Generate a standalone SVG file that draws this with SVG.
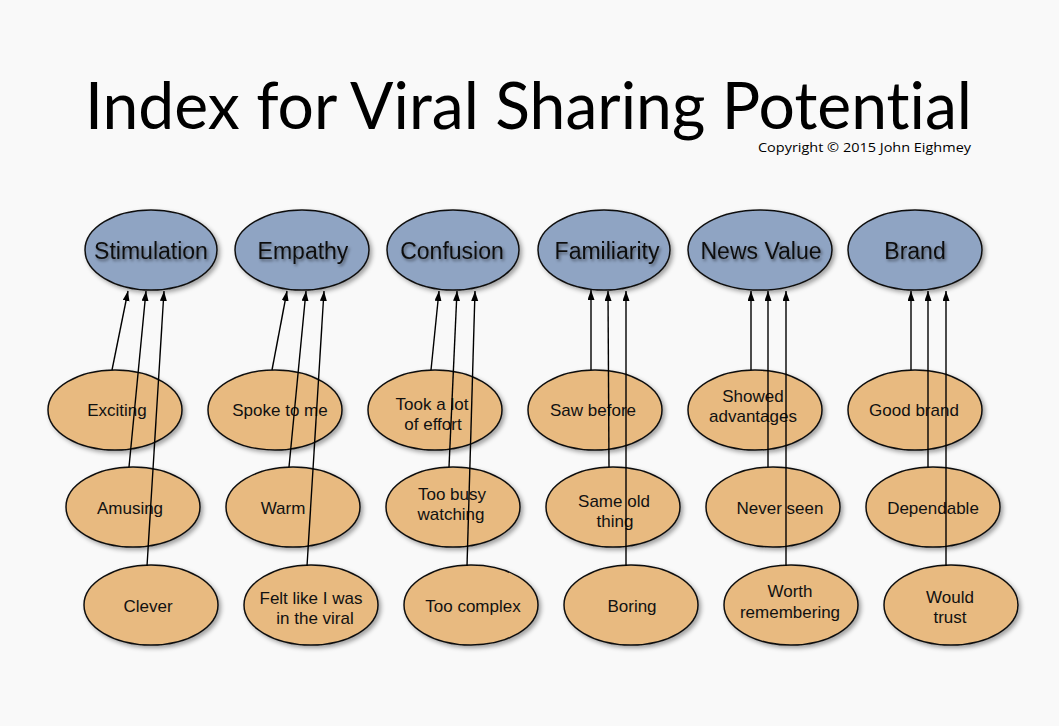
<svg xmlns="http://www.w3.org/2000/svg" width="1059" height="726" viewBox="0 0 1059 726">
<defs>
<style>
.top{fill:#8fa4c3;stroke:#111;stroke-width:1.5;filter:url(#sh)}
.sub{fill:#e8ba80;stroke:#111;stroke-width:1.5;filter:url(#sh)}
.tl{font-family:"Liberation Sans",Arial,sans-serif;font-size:23px;fill:#111;text-anchor:middle;filter:url(#tsh)}
.sl{font-family:"Liberation Sans",Arial,sans-serif;font-size:17px;fill:#111;text-anchor:middle}
.c line{stroke:#000;stroke-width:1.4;marker-end:url(#ah)}
</style>
<filter id="sh" x="-20%" y="-20%" width="150%" height="150%">
<feDropShadow dx="2.5" dy="2.5" stdDeviation="2" flood-color="#000" flood-opacity="0.35"/>
</filter>
<filter id="tsh" x="-20%" y="-30%" width="140%" height="170%">
<feDropShadow dx="1.5" dy="2" stdDeviation="1.5" flood-color="#000" flood-opacity="0.45"/>
</filter>
<marker id="ah" markerUnits="userSpaceOnUse" markerWidth="11" markerHeight="8" refX="10" refY="3.5" orient="auto">
<path d="M0,0 L10,3.5 L0,7 z" fill="#000"/>
</marker>
</defs>
<rect width="1059" height="726" fill="#f9f9f9"/>
<text x="85" y="129" font-family="Lato,'Open Sans',sans-serif" font-size="65" fill="#000" style="font-variant-ligatures:none" textLength="887" lengthAdjust="spacingAndGlyphs">Index for Viral Sharing Potential</text>
<text x="758" y="152" font-family="'Open Sans',Lato,sans-serif" font-size="13.5" fill="#000" textLength="213" lengthAdjust="spacingAndGlyphs">Copyright © 2015 John Eighmey</text>

<g id="stimulation"><ellipse class="top" cx="151" cy="250" rx="66" ry="40"/><text class="tl" x="151" y="259">Stimulation</text></g>
<g id="empathy"><ellipse class="top" cx="302" cy="250" rx="67" ry="40"/><text class="tl" x="303" y="259">Empathy</text></g>
<g id="confusion"><ellipse class="top" cx="453" cy="250" rx="66" ry="40"/><text class="tl" x="452" y="259">Confusion</text></g>
<g id="familiarity"><ellipse class="top" cx="604" cy="250" rx="66" ry="40"/><text class="tl" x="607" y="259">Familiarity</text></g>
<g id="newsvalue"><ellipse class="top" cx="760" cy="250" rx="72" ry="40"/><text class="tl" x="761" y="259">News Value</text></g>
<g id="brand"><ellipse class="top" cx="915" cy="250" rx="67" ry="40"/><text class="tl" x="915" y="259">Brand</text></g>

<g id="exciting"><ellipse class="sub" cx="115" cy="410" rx="67" ry="40"/><text class="sl" x="117" y="416">Exciting</text></g>
<g id="amusing"><ellipse class="sub" cx="133" cy="507" rx="67" ry="40"/><text class="sl" x="130" y="514">Amusing</text></g>
<g id="clever"><ellipse class="sub" cx="151" cy="605" rx="67" ry="40"/><text class="sl" x="148" y="612">Clever</text></g>

<g id="spoketome"><ellipse class="sub" cx="275" cy="410" rx="67" ry="40"/><text class="sl" x="280" y="416">Spoke to me</text></g>
<g id="warm"><ellipse class="sub" cx="293" cy="507" rx="67" ry="40"/><text class="sl" x="283" y="514">Warm</text></g>
<g id="feltlike"><ellipse class="sub" cx="311" cy="605" rx="67" ry="40"/><text class="sl" x="311" y="604">Felt like I was</text><text class="sl" x="315" y="624">in the viral</text></g>

<g id="tookalot"><ellipse class="sub" cx="435" cy="410" rx="67" ry="40"/><text class="sl" x="432" y="410">Took a lot</text><text class="sl" x="433" y="430">of effort</text></g>
<g id="toobusy"><ellipse class="sub" cx="453" cy="507" rx="67" ry="40"/><text class="sl" x="452" y="500">Too busy</text><text class="sl" x="451" y="520">watching</text></g>
<g id="toocomplex"><ellipse class="sub" cx="471" cy="605" rx="67" ry="40"/><text class="sl" x="473" y="612">Too complex</text></g>

<g id="sawbefore"><ellipse class="sub" cx="595" cy="410" rx="67" ry="40"/><text class="sl" x="593" y="416">Saw before</text></g>
<g id="sameold"><ellipse class="sub" cx="613" cy="507" rx="67" ry="40"/><text class="sl" x="614" y="507">Same old</text><text class="sl" x="615" y="527">thing</text></g>
<g id="boring"><ellipse class="sub" cx="631" cy="605" rx="67" ry="40"/><text class="sl" x="632" y="612">Boring</text></g>

<g id="showed"><ellipse class="sub" cx="755" cy="410" rx="67" ry="40"/><text class="sl" x="753" y="402">Showed</text><text class="sl" x="753" y="422">advantages</text></g>
<g id="neverseen"><ellipse class="sub" cx="773" cy="507" rx="67" ry="40"/><text class="sl" x="780" y="514">Never seen</text></g>
<g id="worth"><ellipse class="sub" cx="791" cy="605" rx="67" ry="40"/><text class="sl" x="790" y="597">Worth</text><text class="sl" x="790" y="618">remembering</text></g>

<g id="goodbrand"><ellipse class="sub" cx="915" cy="410" rx="67" ry="40"/><text class="sl" x="914" y="416">Good brand</text></g>
<g id="dependable"><ellipse class="sub" cx="933" cy="507" rx="67" ry="40"/><text class="sl" x="933" y="514">Dependable</text></g>
<g id="wouldtrust"><ellipse class="sub" cx="951" cy="605" rx="67" ry="40"/><text class="sl" x="950" y="603">Would</text><text class="sl" x="950" y="623">trust</text></g>

<g id="connectors" class="c">
<line x1="112" y1="370" x2="128" y2="291"/>
<line x1="129" y1="467" x2="146" y2="291"/>
<line x1="147" y1="566" x2="164" y2="291"/>
<line x1="272" y1="370" x2="287" y2="291"/>
<line x1="289" y1="467" x2="306" y2="291"/>
<line x1="307" y1="566" x2="324" y2="291"/>
<line x1="431" y1="370" x2="439" y2="291"/>
<line x1="449" y1="467" x2="457" y2="291"/>
<line x1="467" y1="566" x2="475" y2="291"/>
<line x1="591" y1="370" x2="591" y2="290"/>
<line x1="609" y1="467" x2="608" y2="291"/>
<line x1="626" y1="566" x2="626" y2="291"/>
<line x1="751" y1="370" x2="751" y2="291"/>
<line x1="768" y1="467" x2="768" y2="291"/>
<line x1="786" y1="566" x2="786" y2="291"/>
<line x1="911" y1="370" x2="911" y2="291"/>
<line x1="928" y1="467" x2="928" y2="291"/>
<line x1="946" y1="566" x2="946" y2="291"/>
</g>
</svg>
